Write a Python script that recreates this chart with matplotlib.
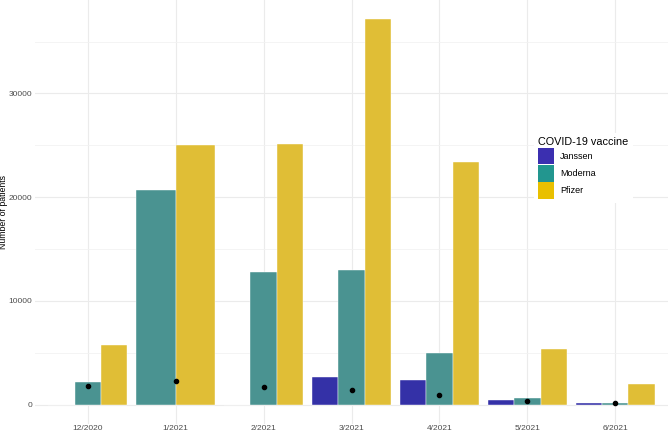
import numpy as np
import matplotlib.pyplot as plt
from matplotlib.patches import Patch

plt.rcParams["font.family"] = ["Liberation Sans", "DejaVu Sans"]

# monthly patient counts by vaccine (NaN = no row for that month)
months = ["12/2020", "1/2021", "2/2021", "3/2021", "4/2021", "5/2021", "6/2021"]
vaccines = ["Janssen", "Moderna", "Pfizer"]
janssen = [0, np.nan, 0, 2720, 2400, 410, 150]
moderna = [2150, 20700, 12800, 13000, 5030, 640, 150]
pfizer = [5770, 25000, 25100, 37150, 23350, 5390, 1990]
dots = [1760, 2240, 1700, 1410, 900, 385, 190]

bar_colors = ["#3431A7", "#4A9391", "#E0BE36"]
key_colors = ["#3B2FB0", "#22968F", "#E9C000"]

fig = plt.figure(figsize=(6.68, 4.33), dpi=100)
ax = fig.add_axes([35 / 668, 9 / 433, 633 / 668, 424 / 433])

series = [janssen, moderna, pfizer]
x = np.arange(1, len(months) + 1)
group_w = 0.9
for i in range(len(months)):
    # dodge like ggplot: the rows present in a month share the full width
    present = [k for k in range(3) if not np.isnan(series[k][i])]
    w = group_w / len(present)
    for j, k in enumerate(present):
        left = x[i] - group_w / 2 + j * w
        ax.bar(left, series[k][i], width=w, align="edge",
               color=bar_colors[k], edgecolor="white", linewidth=0.3, zorder=2)

ax.scatter(x, dots, s=9, color="black", zorder=3)

ymax = max(np.nanmax(s) for s in series)
ax.set_ylim(-0.05 * ymax, 1.05 * ymax)
ax.set_xlim(0.4, len(months) + 0.6)

ax.set_xticks(x)
ax.set_xticklabels(months)
ax.set_yticks([0, 10000, 20000, 30000])
ax.set_yticks([5000, 15000, 25000, 35000], minor=True)
ax.tick_params(axis="both", which="both", length=0, labelsize=6.0, colors="#4D4D4D")
ax.tick_params(axis="x", pad=0.5)
ax.tick_params(axis="y", pad=2)
ax.grid(True, which="major", color="#EBEBEB", linewidth=0.8, zorder=0)
ax.grid(True, which="minor", axis="y", color="#F2F2F2", linewidth=0.6, zorder=0)
for sp in ax.spines.values():
    sp.set_visible(False)
fig.text(4 / 668, 1 - 212 / 433, "Number of patients", rotation=90,
         ha="center", va="center", fontsize=6.3, color="black")

handles = [Patch(facecolor=c, edgecolor="none", label=v) for c, v in zip(key_colors, vaccines)]
leg = ax.legend(handles=handles, title="COVID-19 vaccine", loc="upper left",
                bbox_to_anchor=(529 / 668, 1 - 128 / 433), bbox_transform=fig.transFigure,
                frameon=True, fontsize=6.5, title_fontsize=7.8, handlelength=1.77,
                handleheight=2.45, handletextpad=0.66, labelspacing=0.08,
                borderpad=0.5, alignment="left")
leg.get_frame().set_facecolor("white")
leg.get_frame().set_edgecolor("none")
leg.get_frame().set_alpha(1)

fig.savefig("out.png", dpi=100)
